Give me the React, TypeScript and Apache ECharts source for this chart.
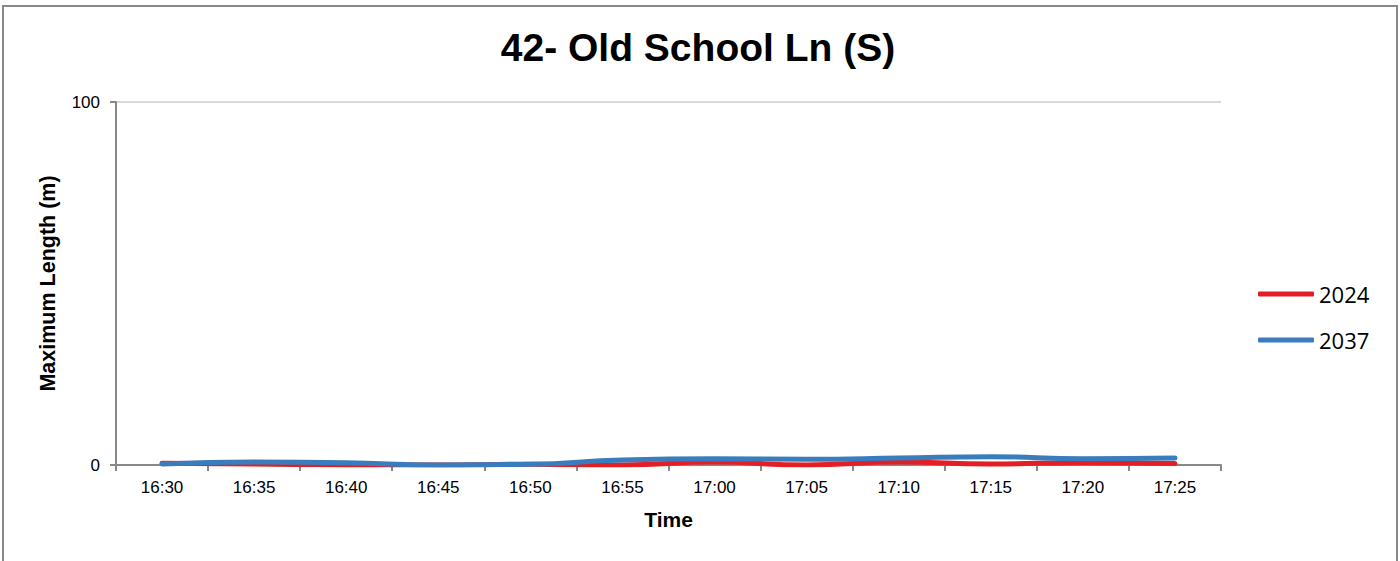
import React, { useEffect, useRef } from "react";
import * as echarts from "echarts";

const categories = ["16:30", "16:35", "16:40", "16:45", "16:50", "16:55", "17:00", "17:05", "17:10", "17:15", "17:20", "17:25"];
const series2024 = [0.5, 0.3, 0, 0, 0.2, 0, 0.8, 0, 0.8, 0.3, 0.6, 0.4];
const series2037 = [0.3, 0.8, 0.6, 0, 0.2, 1.4, 1.7, 1.6, 1.9, 2.3, 1.7, 1.9];
const titleText = "42- Old School Ln (S)";

const SANS = "Liberation Sans";

export default function App() {
  const ref = useRef<HTMLDivElement>(null);
  useEffect(() => {
    if (!ref.current) return;
    const chart = echarts.init(ref.current, undefined, { renderer: "svg" });
    chart.setOption({
      animation: false,
      backgroundColor: "#ffffff",
      title: {
        text: titleText,
        left: 693,
        textAlign: "center",
        top: 23,
        textStyle: { fontFamily: SANS, fontSize: 39, fontWeight: "bold", color: "#000" },
      },
      graphic: [
        {
          type: "rect",
          shape: { x: 3, y: 6, width: 1394, height: 600 },
          style: { fill: "none", stroke: "#888888", lineWidth: 2 },
          silent: true,
        },
      ],
      legend: {
        orient: "vertical",
        left: 1253,
        top: 278,
        itemWidth: 56,
        itemHeight: 5,
        itemGap: 24,
        icon: "roundRect",
        textStyle: { fontFamily: "Open Sans", fontSize: 22, color: "#000" },
        data: ["2024", "2037"],
      },
      grid: { left: 116, right: 179, top: 102, bottom: 96, containLabel: false },
      xAxis: {
        type: "category",
        data: categories,
        boundaryGap: true,
        name: "Time",
        nameLocation: "middle",
        nameGap: 44,
        nameTextStyle: { fontFamily: SANS, fontSize: 21, fontWeight: "bold", color: "#000" },
        axisLine: { lineStyle: { color: "#888888", width: 2 } },
        axisTick: { show: true, length: 6, lineStyle: { color: "#888888", width: 2 } },
        axisLabel: { fontFamily: SANS, fontSize: 17, color: "#000", margin: 14 },
      },
      yAxis: {
        type: "value",
        min: 0,
        max: 100,
        interval: 100,
        name: "Maximum Length (m)",
        nameLocation: "middle",
        nameGap: 57,
        nameTextStyle: { fontFamily: SANS, fontSize: 21.5, fontWeight: "bold", color: "#000" },
        axisLine: { show: true, lineStyle: { color: "#888888", width: 2 } },
        axisTick: { show: true, length: 6, lineStyle: { color: "#888888", width: 2 } },
        axisLabel: { fontFamily: SANS, fontSize: 17, color: "#000", margin: 16 },
        splitLine: { show: true, lineStyle: { color: "#d9d9d9", width: 2 } },
      },
      series: [
        {
          name: "2024",
          type: "line",
          data: series2024,
          smooth: true,
          showSymbol: false,
          lineStyle: { color: "#e31e24", width: 5, cap: "round" },
          itemStyle: { color: "#e31e24" },
        },
        {
          name: "2037",
          type: "line",
          data: series2037,
          smooth: true,
          showSymbol: false,
          lineStyle: { color: "#3a7dbd", width: 5, cap: "round" },
          itemStyle: { color: "#3a7dbd" },
        },
      ],
    });
    return () => chart.dispose();
  }, []);
  return (
    <div
      ref={ref}
      style={{ position: "absolute", left: 0, top: 0, width: 1400, height: 561 }}
    />
  );
}
